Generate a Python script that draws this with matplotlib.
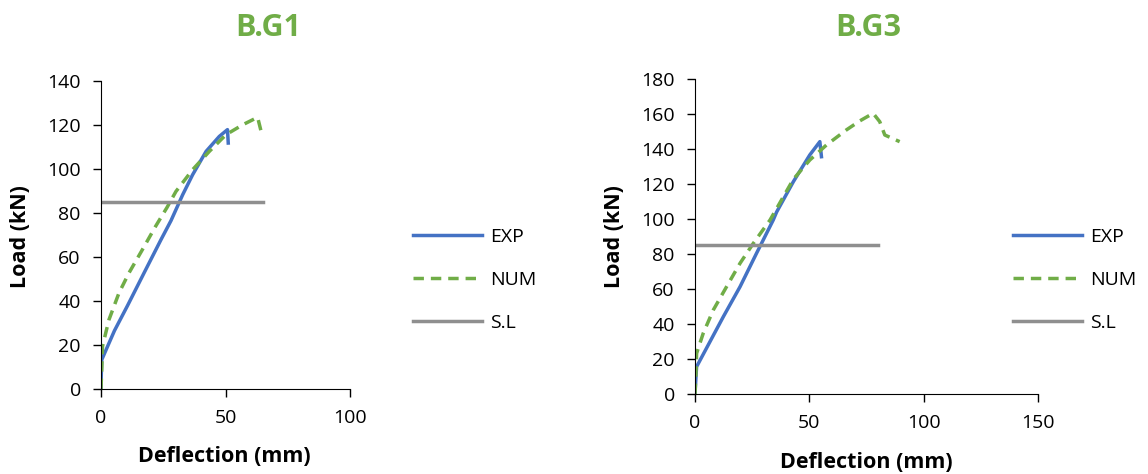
import matplotlib.pyplot as plt

plt.rcParams['font.family'] = ['Open Sans', 'DejaVu Sans']

# B.G1
g1_exp_x = [0, 0.1, 0.3, 5.4, 10.7, 17.4, 24.1, 28.1, 32.8, 36.8, 42.2, 47.5, 50.8, 51.1]
g1_exp_y = [0, 6, 13.3, 26.5, 38, 53, 67.9, 76.5, 88.3, 97.4, 108, 114.8, 117.9, 111.8]
g1_num_x = [0, 0.3, 0.6, 3.2, 7.2, 11.2, 16.6, 21.9, 26.5, 30.1, 36.8, 43.5, 50.2, 56.9, 62.9, 64.3]
g1_num_y = [0, 9, 19.4, 31.5, 43.6, 52.7, 63.3, 73.9, 82.5, 89.8, 99.7, 108, 115.6, 120.1, 123.5, 117.1]
g1_sl_x = [0, 65]
g1_sl_y = [85, 85]

# B.G3
g3_exp_x = [0, 0.3, 0.7, 12.4, 19.7, 26.9, 29.1, 34.2, 35.7, 43, 50.2, 54.6, 55.3]
g3_exp_y = [0, 7, 15.6, 44.2, 61.3, 80.4, 86.1, 99.4, 104, 121.3, 136.6, 144.2, 135.6]
g3_num_x = [0, 0.4, 0.7, 3.6, 8, 13.8, 19.7, 25.5, 32.8, 35.7, 43, 50.2, 57.5, 66.2, 72, 77.9, 80.8, 83, 89.5]
g3_num_y = [0, 11, 23.2, 34.7, 48, 61.3, 74.7, 86.1, 99.4, 106, 122.7, 133.7, 142.3, 150.9, 156, 160.4, 155.6, 148, 144.2]
g3_sl_x = [0, 80]
g3_sl_y = [85, 85]

blue = '#4472C4'
green = '#70AD47'
grey = '#8F8F8F'

fig = plt.figure(figsize=(11.48, 4.74), dpi=100)
W, H = 1148, 474

def box(x0, y0, x1, y1):
    return [x0 / W, 1 - y1 / H, (x1 - x0) / W, (y1 - y0) / H]

panels = [
    dict(rect=box(101, 81, 350, 389), title='B.G1', tx=268, ex=(g1_exp_x, g1_exp_y),
         nm=(g1_num_x, g1_num_y), sl=(g1_sl_x, g1_sl_y), xmax=100, ymax=140,
         xticks=[0, 50, 100], leg=(413, 280), ylab_x=21, ylab_y=237, xlab_y=457, xlab_cx=224),
    dict(rect=box(695, 79, 1038, 394), title='B.G3', tx=868, ex=(g3_exp_x, g3_exp_y),
         nm=(g3_num_x, g3_num_y), sl=(g3_sl_x, g3_sl_y), xmax=150, ymax=180,
         xticks=[0, 50, 100, 150], leg=(1013, 280), ylab_x=614, ylab_y=237, xlab_y=463, xlab_cx=866),
]

for p in panels:
    ax = fig.add_axes(p['rect'])
    l1, = ax.plot(*p['ex'], color=blue, lw=2.5, label='EXP')
    l2, = ax.plot(*p['nm'], color=green, lw=2.5, ls=(0, (3, 2)), label='NUM')
    l3, = ax.plot(*p['sl'], color=grey, lw=2.5, label='S.L')
    ax.set_xlim(0, p['xmax'])
    ax.set_ylim(0, p['ymax'])
    ax.set_xticks(p['xticks'])
    ax.set_yticks(range(0, p['ymax'] + 1, 20))
    ax.spines['top'].set_visible(False)
    ax.spines['right'].set_visible(False)
    ax.tick_params(labelsize=14, length=5.5, width=1, colors='black', pad=9)
    fig.text(p['tx'] / W, 1 - 28 / H, p['title'], color=green, fontsize=22,
             fontweight='bold', ha='center', va='center')
    fig.text(p['ylab_x'] / W, 1 - p['ylab_y'] / H, 'Load (kN)', rotation=90, fontsize=15.5,
             fontweight='bold', ha='center', va='center')
    fig.text(p['xlab_cx'] / W, 1 - p['xlab_y'] / H, 'Deflection (mm)', fontsize=15.5,
             fontweight='bold', ha='center', va='center')
    fig.legend(handles=[l1, l2, l3], loc='center left',
               bbox_to_anchor=(p['leg'][0] / W, 1 - p['leg'][1] / H),
               frameon=False, fontsize=14, handlelength=3.55, labelspacing=1.3,
               handletextpad=0.4, borderpad=0, borderaxespad=0)

fig.savefig('out.png', dpi=100)
